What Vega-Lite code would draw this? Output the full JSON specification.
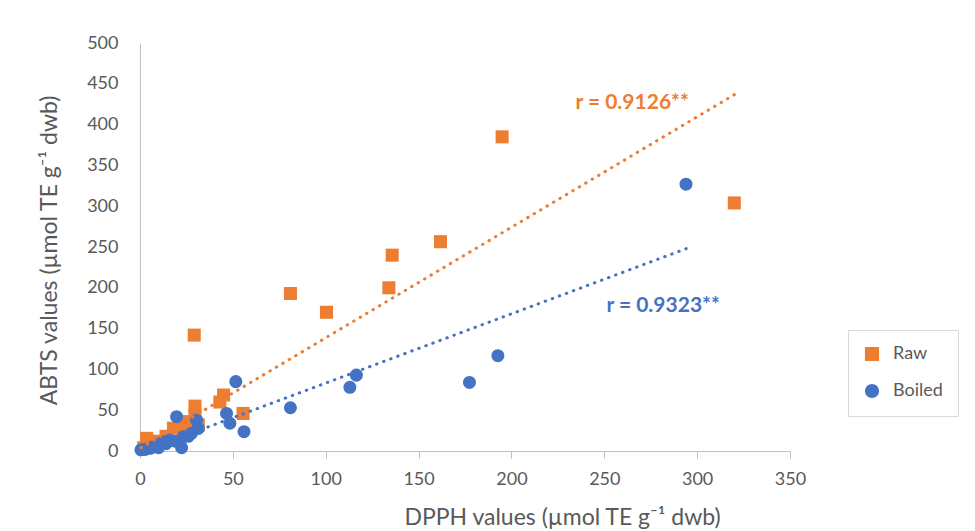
{
  "$schema": "https://vega.github.io/schema/vega-lite/v6.json",
  "autosize": "none",
  "width": 650,
  "height": 408,
  "padding": {"left": 140, "top": 43, "right": 185, "bottom": 80},
  "background": "white",
  "config": {
    "view": {"stroke": null},
    "font": "Lato",
    "axis": {"grid": false, "labelFont": "Lato", "titleFont": "Lato", "labelColor": "#595959", "titleColor": "#595959", "domainColor": "#BFBFBF", "tickColor": "#BFBFBF", "labelFontSize": 18, "titleFontSize": 23, "titleFontWeight": "normal", "labelFlush": false}
  },
  "datasets": {
    "pts": [
      {"series": "Raw", "DPPH": 320, "ABTS": 304},
      {"series": "Raw", "DPPH": 195, "ABTS": 385},
      {"series": "Raw", "DPPH": 161.8, "ABTS": 256.5},
      {"series": "Raw", "DPPH": 135.8, "ABTS": 240},
      {"series": "Raw", "DPPH": 134, "ABTS": 200},
      {"series": "Raw", "DPPH": 81, "ABTS": 193},
      {"series": "Raw", "DPPH": 100.4, "ABTS": 170},
      {"series": "Raw", "DPPH": 29.2, "ABTS": 142},
      {"series": "Raw", "DPPH": 45, "ABTS": 68.6},
      {"series": "Raw", "DPPH": 43, "ABTS": 60},
      {"series": "Raw", "DPPH": 55.5, "ABTS": 46},
      {"series": "Raw", "DPPH": 29.6, "ABTS": 55},
      {"series": "Raw", "DPPH": 29.6, "ABTS": 44},
      {"series": "Raw", "DPPH": 21.5, "ABTS": 32},
      {"series": "Raw", "DPPH": 18, "ABTS": 28},
      {"series": "Raw", "DPPH": 31.4, "ABTS": 32},
      {"series": "Raw", "DPPH": 3.6, "ABTS": 15.5},
      {"series": "Raw", "DPPH": 10, "ABTS": 12},
      {"series": "Raw", "DPPH": 14, "ABTS": 18},
      {"series": "Raw", "DPPH": 6, "ABTS": 8},
      {"series": "Raw", "DPPH": 2, "ABTS": 4},
      {"series": "Raw", "DPPH": 25, "ABTS": 36},
      {"series": "Raw", "DPPH": 24, "ABTS": 26},
      {"series": "Raw", "DPPH": 12, "ABTS": 10},
      {"series": "Boiled", "DPPH": 294, "ABTS": 327},
      {"series": "Boiled", "DPPH": 192.7, "ABTS": 116.8},
      {"series": "Boiled", "DPPH": 177.4, "ABTS": 84},
      {"series": "Boiled", "DPPH": 116.5, "ABTS": 93},
      {"series": "Boiled", "DPPH": 113, "ABTS": 78},
      {"series": "Boiled", "DPPH": 81, "ABTS": 53},
      {"series": "Boiled", "DPPH": 51.6, "ABTS": 85},
      {"series": "Boiled", "DPPH": 46.6, "ABTS": 46},
      {"series": "Boiled", "DPPH": 48.4, "ABTS": 34},
      {"series": "Boiled", "DPPH": 56, "ABTS": 23.7},
      {"series": "Boiled", "DPPH": 19.7, "ABTS": 42},
      {"series": "Boiled", "DPPH": 30.5, "ABTS": 38},
      {"series": "Boiled", "DPPH": 31.4, "ABTS": 27.7},
      {"series": "Boiled", "DPPH": 27.7, "ABTS": 21.6},
      {"series": "Boiled", "DPPH": 23.3, "ABTS": 17.5},
      {"series": "Boiled", "DPPH": 22.4, "ABTS": 4},
      {"series": "Boiled", "DPPH": 16, "ABTS": 13.5},
      {"series": "Boiled", "DPPH": 12.5, "ABTS": 11.4},
      {"series": "Boiled", "DPPH": 9, "ABTS": 7.4},
      {"series": "Boiled", "DPPH": 5.4, "ABTS": 3.3},
      {"series": "Boiled", "DPPH": 0.5, "ABTS": 1.5},
      {"series": "Boiled", "DPPH": 2.7, "ABTS": 2},
      {"series": "Boiled", "DPPH": 14, "ABTS": 9},
      {"series": "Boiled", "DPPH": 7, "ABTS": 5},
      {"series": "Boiled", "DPPH": 19, "ABTS": 12},
      {"series": "Boiled", "DPPH": 26, "ABTS": 18},
      {"series": "Boiled", "DPPH": 10, "ABTS": 4}
    ],
    "trend": [
      {"series": "Raw", "DPPH": 0.5, "ABTS": 4},
      {"series": "Raw", "DPPH": 321.5, "ABTS": 438.7},
      {"series": "Boiled", "DPPH": 2.5, "ABTS": 0.5},
      {"series": "Boiled", "DPPH": 295, "ABTS": 248.7}
    ],
    "labels": [
      {"series": "Raw", "DPPH": 265, "ABTS": 426.5, "text": "r = 0.9126**"},
      {"series": "Boiled", "DPPH": 281.7, "ABTS": 177.7, "text": "r = 0.9323**"}
    ]
  },
  "layer": [
    {
      "data": {"name": "pts"},
      "mark": {"type": "point", "filled": true, "opacity": 1},
      "encoding": {
        "x": {"field": "DPPH", "type": "quantitative", "scale": {"domain": [0, 350], "nice": false, "zero": true},
              "axis": {"values": [0, 50, 100, 150, 200, 250, 300, 350], "tickSize": 7, "labelPadding": 12, "title": "DPPH values (µmol TE g⁻¹ dwb)", "titleX": 422, "titleY": 66, "titleAlign": "center", "titleBaseline": "middle"}},
        "y": {"field": "ABTS", "type": "quantitative", "scale": {"domain": [0, 500], "nice": false},
              "axis": {"values": [0, 50, 100, 150, 200, 250, 300, 350, 400, 450, 500], "ticks": false, "tickSize": 0, "labelPadding": 22, "title": "ABTS values (µmol TE g⁻¹ dwb)", "titleX": -91, "titleY": 207, "titleAlign": "center", "titleBaseline": "middle", "titleAngle": -90}},
        "color": {"field": "series", "type": "nominal", "scale": {"domain": ["Raw", "Boiled"], "range": ["#ED7D31", "#4472C4"]},
                  "legend": {"title": null, "orient": "none", "legendX": 708, "legendY": 287, "strokeColor": "#D9D9D9", "padding": 15, "labelFontSize": 18, "labelColor": "#595959", "labelFont": "Lato", "symbolSize": 160, "rowPadding": 17, "labelOffset": 12, "symbolOpacity": 1}},
        "shape": {"field": "series", "type": "nominal", "scale": {"domain": ["Raw", "Boiled"], "range": ["square", "circle"]}},
        "size": {"value": 170}
      }
    },
    {
      "data": {"name": "trend"},
      "mark": {"type": "line", "strokeWidth": 3, "strokeDash": [0.5, 7], "strokeCap": "round"},
      "encoding": {
        "x": {"field": "DPPH", "type": "quantitative"},
        "y": {"field": "ABTS", "type": "quantitative"},
        "stroke": {"field": "series", "type": "nominal", "scale": {"domain": ["Raw", "Boiled"], "range": ["#ED7D31", "#4472C4"]}, "legend": null},
        "detail": {"field": "series"}
      }
    },
    {
      "data": {"name": "labels"},
      "mark": {"type": "text", "fontSize": 21, "fontWeight": "bold", "font": "Lato", "align": "center", "baseline": "middle"},
      "encoding": {
        "x": {"field": "DPPH", "type": "quantitative"},
        "y": {"field": "ABTS", "type": "quantitative"},
        "text": {"field": "text"},
        "fill": {"field": "series", "type": "nominal", "scale": {"domain": ["Raw", "Boiled"], "range": ["#ED7D31", "#4472C4"]}, "legend": null}
      }
    }
  ]
}
